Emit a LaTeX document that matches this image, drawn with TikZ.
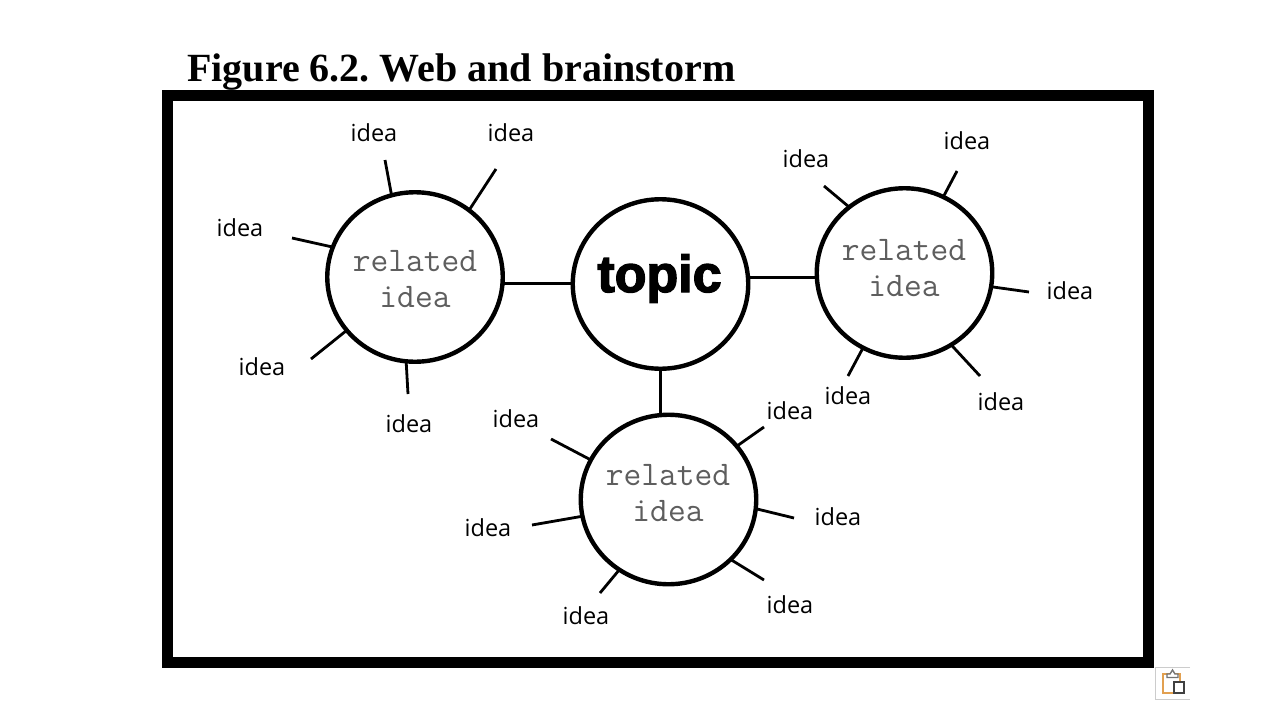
\documentclass[tikz,border=0pt]{standalone}
\usepackage{fontspec}
\usetikzlibrary{shapes.geometric}
\setmainfont{Liberation Serif}
\newfontfamily\ideafont{Open Sans}
\newfontfamily\topicfont[FakeBold=2.6]{Liberation Sans Bold}
\definecolor{ideagray}{HTML}{5E5E5E}
\definecolor{clipor}{HTML}{E2A050}
\tikzset{
  hub/.style={ellipse,draw=black,line width=4.4pt,fill=white,minimum width=175.5pt,minimum height=169.5pt,inner sep=0pt,outer sep=0pt},
  spoke/.style={draw=black,line width=2.8pt},
  idealabel/.style={font=\ideafont\fontsize{23.5}{24}\selectfont,text=black,inner sep=0pt},
  rellabel/.style={font=\ttfamily\fontsize{34.5}{36}\selectfont,text=ideagray,align=center,inner sep=0pt},
}
\begin{document}
\begin{tikzpicture}[x=1pt,y=-1pt]
\useasboundingbox (0,0) rectangle (1280,720);
\fill[white] (0,0) rectangle (1280,720);
\node[font=\frenchspacing\bfseries\fontsize{40}{40}\selectfont,anchor=base west,inner sep=0pt] (title) at (187,81) {Figure 6.2. Web and brainstorm};
\node[draw=black,line width=11pt,minimum width=981pt,minimum height=567pt,inner sep=0pt,outer sep=0pt] (frame) at (658,379) {};
% hubs
\node[hub] (c1) at (415,277) {};
\node[hub] (top) at (660.5,284) {};
\node[hub] (c2) at (904.5,273) {};
\node[hub] (c3) at (668.5,499.5) {};
\node[font=\topicfont\fontsize{52}{52}\selectfont,inner sep=0pt,anchor=base] (toptext) at (659.5,292) {topic};
\node[rellabel] (t1) at (415,279) {related\\idea};
\node[rellabel] (t2) at (904,268) {related\\idea};
\node[rellabel] (t3) at (668,493) {related\\idea};
% hub links
\draw[spoke] (c1.-4.5) -- (c1.-4.5-|top.west);
\draw[spoke] (top.4) -- (top.4-|c2.west);
\draw[spoke] (top.south) -- (top.south|-c3.north);
% idea labels and ends
\foreach \n/\x/\y in {a1/374/133,a2/511/133,a3/240/228,a4/262/367,a5/409/424,
 b1/806/159,b2/967/141,b3/1070/291,b4/848/396,b5/1001/402,
 d1/516/419,d2/790/411,d3/838/517,d4/790/605,d5/586/616,d6/488/528}
 \node[idealabel] (\n) at (\x,\y) {idea};
\foreach \h/\a/\n/\x/\y in {c1/106/e1/385/160,c1/51/e2/496/169,c1/160.5/e3/292/238,c1/218.6/e4/311/359,c1/264.7/e5/408/394,
 c2/130/e6/824/186,c2/63/e7/957/171,c2/-9.7/e8/1029/292,c2/-57/e9/980/376,c2/241.7/e10/848/376,
 c3/153.7/e11/551/439,c3/38/e12/764/427,c3/-6.4/e13/794/518,c3/-44.5/e14/764/580,c3/235.2/e15/600/593,c3/191/e16/532/525}
 {\coordinate (\n) at (\x,\y); \draw[spoke] (\h.\a) -- (\n);}
% clipboard tag
\draw[draw=black!20,line width=1pt] (1190,667) -- (1155,667) -- (1155,699) -- (1190,699);
\draw[clipor,line width=2.2pt] (1170,674) -- (1163,674) -- (1163,693) -- (1173,693);
\draw[clipor,line width=2.2pt] (1175,674) -- (1180,674) -- (1180,681);
\draw[black!55,line width=1.4pt,fill=white] (1167,677.5) -- (1167,674) -- (1170,674) -- (1172.5,670) -- (1175,674) -- (1178,674) -- (1178,677.5) -- cycle;
\draw[black!75,line width=1.6pt,fill=white] (1174,682) rectangle (1184,693);
\end{tikzpicture}
\end{document}
